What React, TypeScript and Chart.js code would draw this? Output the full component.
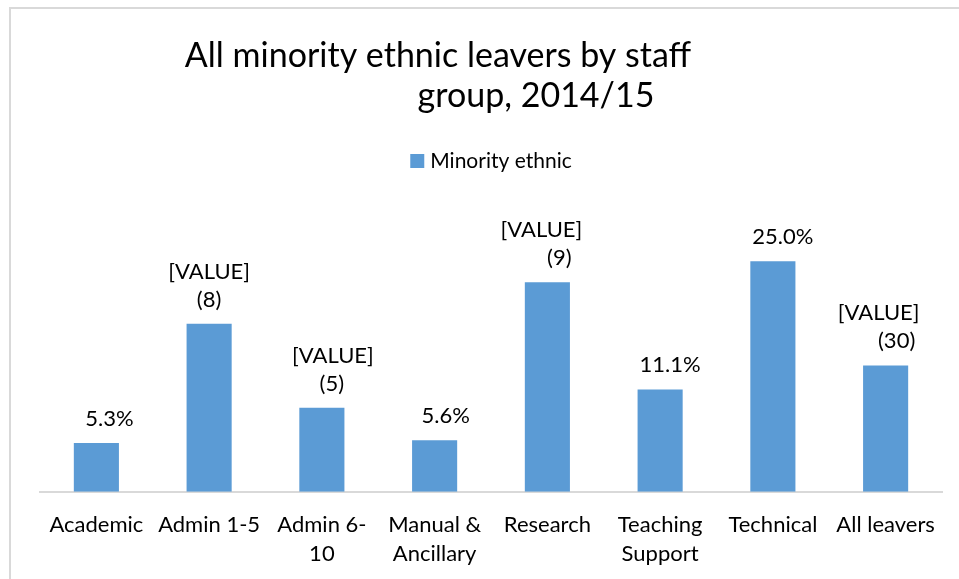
import React, { useEffect, useRef } from "react";
import { Chart, registerables } from "chart.js";

Chart.register(...registerables);

// ---- data ----
const categories: string[][] = [
  ["Academic"],
  ["Admin 1-5"],
  ["Admin 6-", "10"],
  ["Manual &", "Ancillary"],
  ["Research"],
  ["Teaching", "Support"],
  ["Technical"],
  ["All leavers"],
];
const seriesName = "Minority ethnic";
const values = [5.3, 18.2, 9.1, 5.6, 22.7, 11.1, 25.0, 13.7];
const valueLabels: string[][] = [
  ["5.3%"],
  ["[VALUE]", "(8)"],
  ["[VALUE]", "(5)"],
  ["5.6%"],
  ["[VALUE]", "(9)"],
  ["11.1%"],
  ["25.0%"],
  ["[VALUE]", "(30)"],
];
const titleLines = ["All minority ethnic leavers by staff", "group, 2014/15"];
const yMin = 0;
const yMax = 30;

// ---- style ----
const FONT = "Lato, 'Open Sans', sans-serif";
const BAR_COLOR = "#5b9bd5";
const TEXT_COLOR = "#000000";
// manual label nudges (px), as the labels were dragged in the original
const LABEL_NUDGE: number[][] = [[13], [0, 0], [11, 10], [11], [-6, 12], [10], [10], [-7, 11]];

const textPlugin = {
  id: "excelText",
  afterDatasetsDraw(chart: any) {
    const ctx = chart.ctx as CanvasRenderingContext2D;
    const meta = chart.getDatasetMeta(0);
    const cx = (chart.chartArea.left + chart.chartArea.right) / 2;
    ctx.save();
    ctx.fillStyle = TEXT_COLOR;
    ctx.textAlign = "center";
    ctx.textBaseline = "alphabetic";

    // data labels
    ctx.font = `22px ${FONT}`;
    meta.data.forEach((bar: any, i: number) => {
      const lines = valueLabels[i];
      const n = lines.length;
      lines.forEach((t, j) => {
        const y = bar.y - 17 - (n - 1 - j) * 28;
        ctx.fillText(t, bar.x + (LABEL_NUDGE[i]?.[j] ?? 0), y);
      });
    });

    // title
    ctx.font = `34px ${FONT}`;
    ctx.fillText(titleLines[0], cx - 53, 67);
    ctx.fillText(titleLines[1], cx + 45, 107);

    // legend
    ctx.font = `21px ${FONT}`;
    const tw = ctx.measureText(seriesName).width;
    const box = 14;
    const gap = 6;
    const total = box + gap + tw;
    const lx = cx - total / 2;
    ctx.fillStyle = BAR_COLOR;
    ctx.fillRect(lx, 154, box, box);
    ctx.fillStyle = TEXT_COLOR;
    ctx.textAlign = "left";
    ctx.fillText(seriesName, lx + box + gap, 168);
    ctx.restore();
  },
};

export default function App() {
  const ref = useRef<HTMLCanvasElement | null>(null);
  useEffect(() => {
    if (!ref.current) return;
    const chart = new Chart(ref.current, {
      type: "bar",
      data: {
        labels: categories,
        datasets: [
          {
            label: seriesName,
            data: values,
            backgroundColor: BAR_COLOR,
            borderWidth: 0,
            barPercentage: 0.4,
            categoryPercentage: 1,
          },
        ],
      },
      options: {
        responsive: false,
        animation: false,
        layout: { padding: { top: 215, left: 40, right: 17, bottom: -8 } },
        plugins: {
          legend: { display: false },
          title: { display: false },
          tooltip: { enabled: false },
        },
        scales: {
          x: {
            offset: true,
            grid: { display: false, drawTicks: false },
            border: { display: true, color: "#d9d9d9", width: 2 },
            ticks: {
              autoSkip: false,
              maxRotation: 0,
              minRotation: 0,
              padding: 19,
              color: TEXT_COLOR,
              font: { family: FONT, size: 22, lineHeight: 1.3 },
            },
          },
          y: {
            display: false,
            min: yMin,
            max: yMax,
          },
        },
      },
      plugins: [textPlugin],
    });
    return () => chart.destroy();
  }, []);

  return (
    <div style={{ position: "absolute", left: 0, top: 0, width: 959, height: 579, overflow: "hidden", background: "#fff" }}>
      <div
        style={{
          position: "absolute",
          left: 9,
          top: 7,
          width: 1000,
          height: 700,
          borderLeft: "2px solid #d9d9d9",
          borderTop: "2px solid #d9d9d9",
        }}
      />
      <canvas ref={ref} width={959} height={579} style={{ position: "absolute", left: 0, top: 0 }} />
    </div>
  );
}
